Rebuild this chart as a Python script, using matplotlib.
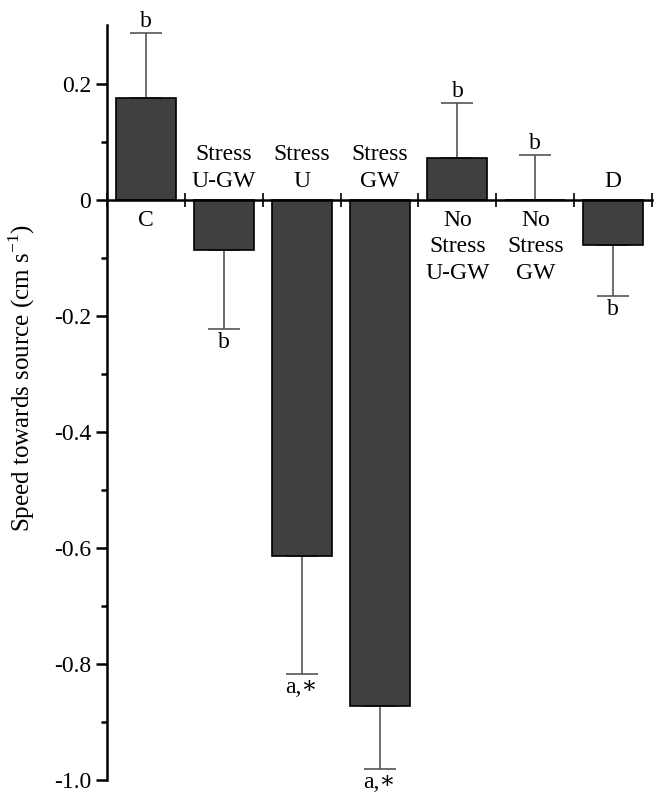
import matplotlib
matplotlib.use("Agg")
import matplotlib.pyplot as plt
import numpy as np

plt.rcParams['font.family'] = ['serif']
plt.rcParams['font.serif'] = ['Liberation Serif', 'DejaVu Serif']
plt.rcParams['mathtext.fontset'] = 'custom'
plt.rcParams['mathtext.rm'] = 'Liberation Serif'
plt.rcParams['axes.unicode_minus'] = False

# data
groups = ["C", "Stress\nU-GW", "Stress\nU", "Stress\nGW",
          "No\nStress\nU-GW", "No\nStress\nGW", "D"]
speed = [0.176, -0.086, -0.614, -0.872, 0.072, 0.0, -0.078]
err = [0.112, 0.136, 0.203, 0.109, 0.095, 0.078, 0.088]
sig = ["b", "b", "a,\u2217", "a,\u2217", "b", "b", "b"]
yticks = [0.2, 0, -0.2, -0.4, -0.6, -0.8, -1.0]
ytick_labels = ["0.2", "0", "-0.2", "-0.4", "-0.6", "-0.8", "-1.0"]

fig = plt.figure(figsize=(6.58, 7.94), dpi=100)
ax = fig.add_axes([0.1626, 0.0176, 0.8284, 0.9509])

x = np.arange(1, len(groups) + 1)
ax.bar(x, speed, width=0.77, color="#404040", edgecolor="black", linewidth=1.2, zorder=2)

# one-sided error bars, pointing away from zero
lower = [e if v < 0 else 0 for v, e in zip(speed, err)]
upper = [e if v >= 0 else 0 for v, e in zip(speed, err)]
ax.errorbar(x, speed, yerr=[lower, upper], fmt="none", ecolor="#555555",
            elinewidth=1.2, capsize=11.5, capthick=1.2, zorder=1)

fs = 17
fam = ['Liberation Serif', 'DejaVu Serif']
for xi, v, e, s, g in zip(x, speed, err, sig, groups):
    if v >= 0:
        ax.annotate(s, (xi, v + e), xytext=(0, 1), textcoords="offset points",
                    ha="center", va="bottom", fontsize=fs, family=fam)
        ax.annotate(g, (xi, 0), xytext=(0, -7), textcoords="offset points",
                    ha="center", va="top", fontsize=fs, linespacing=1.35)
    else:
        ax.annotate(s, (xi, v - e), xytext=(0, -2), textcoords="offset points",
                    ha="center", va="top", fontsize=fs, family=fam,
                    annotation_clip=False)
        ax.annotate(g, (xi, 0), xytext=(0, 6), textcoords="offset points",
                    ha="center", va="bottom", fontsize=fs, linespacing=1.35)

ax.set_xlim(0.5, 7.5)
ax.set_ylim(-1.0, 0.302)
ax.set_yticks(yticks)
ax.set_yticklabels(ytick_labels, fontsize=fs)
ax.set_yticks(np.arange(-0.9, 0.3, 0.2), minor=True)
ax.tick_params(axis="y", which="major", direction="out", length=8, width=1.8)
ax.tick_params(axis="y", which="minor", direction="out", length=4.5, width=1.8)

ax.spines["top"].set_visible(False)
ax.spines["right"].set_visible(False)
ax.spines["left"].set_linewidth(1.8)
ax.spines["bottom"].set_position(("data", 0))
ax.spines["bottom"].set_linewidth(1.8)
ax.spines["bottom"].set_zorder(3)
ax.set_xticks(np.arange(0.5, 7.6, 1.0))
ax.set_xticklabels([])
ax.tick_params(axis="x", direction="inout", length=10, width=1.2)

ax.set_ylabel("Speed towards source (cm s$^{\\mathregular{-1}}$)", fontsize=18)
ax.yaxis.set_label_coords(-0.128, 0.532)

fig.savefig("out.png", dpi=100)
